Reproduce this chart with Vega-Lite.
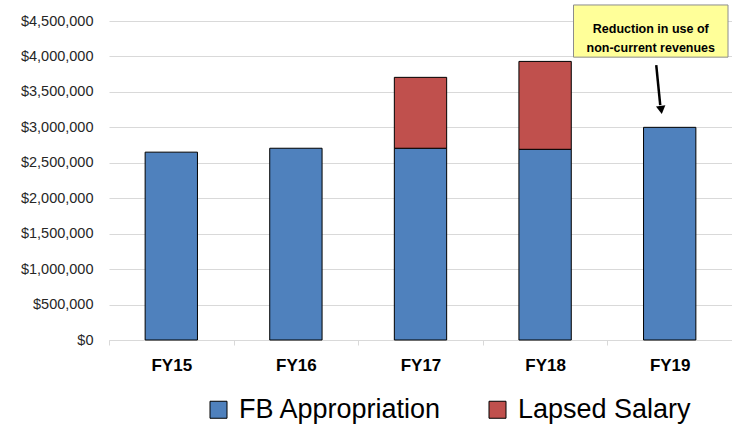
{
  "$schema": "https://vega.github.io/schema/vega-lite/v6.json",
  "autosize": {"type": "none"},
  "width": 623,
  "height": 319,
  "padding": {"left": 109, "top": 21, "right": 0, "bottom": 86},
  "background": "white",
  "config": {
    "view": {"stroke": null},
    "font": "Liberation Sans",
    "axisY": {
      "title": null, "labelOverlap": false, "domain": false, "ticks": false, "labelPadding": 16,
      "labelFontSize": 14.5, "labelColor": "#262626", "gridColor": "#d9d9d9", "gridWidth": 1, "tickCount": 9
    }
  },
  "layer": [
    {
      "data": {"values": [
        {"year": "FY15", "series": "FB Appropriation", "value": 2650000},
        {"year": "FY16", "series": "FB Appropriation", "value": 2705000},
        {"year": "FY17", "series": "FB Appropriation", "value": 2705000},
        {"year": "FY17", "series": "Lapsed Salary", "value": 1000000},
        {"year": "FY18", "series": "FB Appropriation", "value": 2690000},
        {"year": "FY18", "series": "Lapsed Salary", "value": 1240000},
        {"year": "FY19", "series": "FB Appropriation", "value": 3000000}
      ]},
      "mark": {"type": "bar", "width": {"band": 0.42}, "stroke": "#000000", "strokeWidth": 1},
      "encoding": {
        "x": {
          "field": "year", "type": "nominal", "sort": null,
          "scale": {"paddingInner": 0, "paddingOuter": 0},
          "axis": {
            "title": null, "labelAngle": 0, "tickBand": "extent",
            "domainColor": "#d9d9d9", "tickColor": "#d9d9d9", "tickSize": 5,
            "labelFont": "Liberation Sans", "labelFontSize": 17, "labelFontWeight": "bold",
            "labelColor": "#000000", "labelPadding": 12, "grid": false
          }
        },
        "y": {
          "field": "value", "type": "quantitative", "stack": "zero",
          "scale": {"domain": [0, 4500000], "nice": false},
          "axis": {"format": "$,.0f"}
        },
        "color": {
          "field": "series", "type": "nominal",
          "scale": {"domain": ["FB Appropriation", "Lapsed Salary"], "range": ["#4f81bd", "#c0504d"]},
          "legend": {
            "title": null, "orient": "none", "direction": "horizontal", "legendX": 96, "legendY": 375,
            "symbolType": "square", "symbolSize": 289, "symbolStrokeColor": "#000000", "symbolStrokeWidth": 1,
            "labelFontSize": 27, "labelColor": "#000000", "labelOffset": 7, "columnPadding": 42, "labelLimit": 0
          }
        },
        "order": {"field": "series", "sort": "ascending"}
      }
    },
    {
      "data": {"values": [{"note": "Reduction in use of\nnon-current revenues"}]},
      "layer": [
        {
          "mark": {"type": "rect", "fill": "#ffff99", "stroke": "#8c8c8c", "strokeWidth": 1},
          "encoding": {
            "x": {"datum": 3.728, "type": "quantitative", "scale": {"domain": [0, 5], "nice": false, "zero": false}, "axis": null},
            "x2": {"datum": 4.968},
            "y": {"datum": 4726000, "type": "quantitative", "axis": {"format": "$,.0f"}},
            "y2": {"datum": 3990000}
          }
        },
        {
          "mark": {"type": "text", "fontWeight": "bold", "fontSize": 12.5, "align": "center", "baseline": "middle", "lineBreak": "\n", "lineHeight": 19, "color": "#000000"},
          "encoding": {
            "x": {"datum": 4.348, "type": "quantitative", "axis": null},
            "y": {"datum": 4390000, "type": "quantitative", "axis": {"format": "$,.0f"}},
            "text": {"field": "note"}
          }
        },
        {
          "mark": {"type": "rule", "stroke": "#000000", "strokeWidth": 2.5},
          "encoding": {
            "x": {"datum": 4.392, "type": "quantitative", "axis": null},
            "y": {"datum": 3879000, "type": "quantitative", "axis": {"format": "$,.0f"}},
            "x2": {"datum": 4.424},
            "y2": {"datum": 3315000}
          }
        },
        {
          "mark": {"type": "point", "shape": "triangle-down", "filled": true, "fill": "#000000", "stroke": null, "size": 90, "angle": 352, "opacity": 1},
          "encoding": {
            "x": {"datum": 4.432, "type": "quantitative", "axis": null},
            "y": {"datum": 3245000, "type": "quantitative", "axis": {"format": "$,.0f"}}
          }
        }
      ]
    }
  ],
  "resolve": {"scale": {"x": "independent"}}
}
